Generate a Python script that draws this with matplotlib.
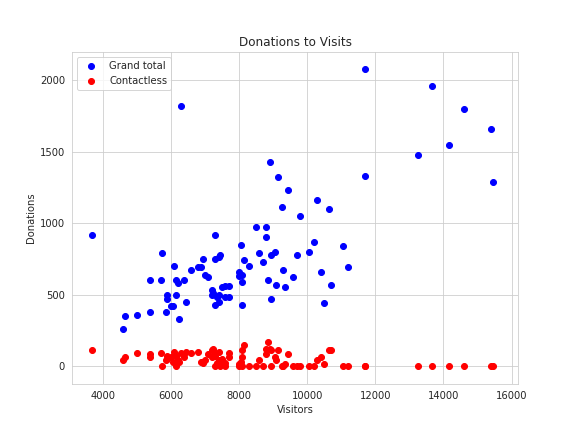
import matplotlib
matplotlib.use("Agg")
import matplotlib.pyplot as plt
import seaborn as sns

sns.set_style("whitegrid")

visitors = [3700, 4600, 4650, 5000, 5400, 5400, 5700, 5750, 5850, 5900, 5900, 6000, 6050, 6100,
            6150, 6200, 6150, 6250, 6300, 6400, 6450, 6600, 6800, 6900, 6950, 7000, 7100, 7200,
            7200, 7250, 7300, 7300, 7350, 7300, 7400, 7400, 7450, 7400, 7500, 7600, 7600, 7700,
            7700, 8000, 8000, 8050, 8100, 8100, 8100, 8150, 8300, 8500, 8600, 8700, 8800, 8800,
            8850, 8900, 8950, 8950, 9050, 9100, 9150, 9250, 9300, 9350, 9450, 9600, 9700, 9800,
            10050, 10200, 10300, 10400, 10500, 10650, 10700, 11050, 11200, 11700, 11700, 13250,
            13650, 14150, 14600, 15400, 15450]
grand_total = [920, 260, 350, 360, 380, 600, 600, 790, 380, 500, 470, 420, 420, 700,
               600, 580, 500, 330, 1820, 600, 450, 670, 690, 690, 750, 640, 620, 530,
               500, 510, 920, 750, 480, 430, 450, 500, 780, 760, 550, 560, 480, 480,
               560, 660, 630, 850, 640, 430, 590, 740, 700, 970, 790, 730, 970, 900,
               600, 1430, 780, 470, 800, 570, 1320, 1110, 670, 550, 1230, 620, 780, 1050,
               800, 870, 1160, 660, 440, 1100, 570, 840, 690, 1330, 2080, 1480,
               1960, 1550, 1800, 1660, 1290]
contactless = [110, 40, 60, 90, 60, 80, 90, 0, 40, 50, 70, 60, 30, 100,
               70, 40, 0, 30, 90, 60, 100, 90, 100, 30, 20, 40, 80, 60,
               110, 120, 90, 0, 20, 70, 40, 100, 0, 30, 50, 20, 0, 60,
               90, 0, 10, 30, 60, 0, 110, 150, 0, 0, 40, 0, 120, 80,
               170, 120, 0, 110, 60, 40, 110, 0, 0, 10, 80, 0, 0, 0,
               0, 0, 40, 60, 10, 110, 110, 0, 0, 0, 0, 0,
               0, 0, 0, 0, 0]
contactless = contactless[:len(visitors)] + [0] * (len(visitors) - len(contactless))

fig, ax = plt.subplots(figsize=(8, 6), dpi=72)
ax.scatter(visitors, grand_total, color="blue", label="Grand total")
ax.scatter(visitors, contactless, color="red", label="Contactless")
ax.set_title("Donations to Visits")
ax.set_xlabel("Visitors")
ax.set_ylabel("Donations")
ax.set_xlim(3100, 16200)
ax.set_ylim(-130, 2200)
ax.legend(loc="upper left")
plt.savefig("out.png", dpi=72)
